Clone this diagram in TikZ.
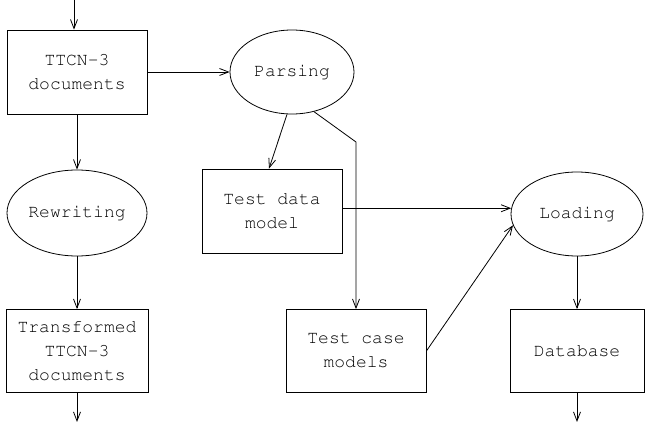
\documentclass[tikz,border=0pt]{standalone}
\usepackage[T1]{fontenc}
\usepackage{courier}
\usepackage{tikz}
\usetikzlibrary{arrows.meta, shapes.geometric}
\tikzset{
  databox/.style={draw, line width=0.8pt, rectangle, minimum width=140pt, minimum height=84pt, align=center, inner sep=0pt},
  procnode/.style={draw, line width=0.8pt, ellipse, inner sep=0pt, align=center},
  flow/.style={line width=0.8pt, -{Straight Barb[length=9pt,width=7pt]}}
}
\newcommand{\flowfont}{\ttfamily\fontsize{18}{24}\selectfont}

\begin{document}
\begin{tikzpicture}[x=1pt, y=-1pt, font=\flowfont]
        \useasboundingbox (0,0) rectangle (645,422);

        % Data (boxes)
        \node[databox] (doc) at (77,72) {TTCN-3\\documents};
        \node[databox] (tdm) at (272,211) {Test data\\model};
        \node[databox, minimum width=142pt, minimum height=83pt] (trans) at (77,351) {Transformed\\TTCN-3\\documents};
        \node[databox, minimum height=83pt] (tcm) at (356,351) {Test case\\models};
        \node[databox, minimum width=134pt, minimum height=83pt] (db) at (577,351) {Database};

        % Processes (ellipses)
        \node[procnode, minimum width=124pt, minimum height=84pt] (parse) at (292,72) {Parsing};
        \node[procnode, minimum width=140pt, minimum height=86pt] (rew) at (77,213) {Rewriting};
        \node[procnode, minimum width=132pt, minimum height=84pt] (load) at (577,214) {Loading};

        % Free ends
        \coordinate (in) at (74,0);
        \coordinate (out1) at (77,422);
        \coordinate (out2) at (577,422);
        \coordinate (bend) at (356,142);

        % Flows
        \draw[flow] (in) -- (in |- doc.north);
        \draw[flow] (doc.east) -- (parse.west);
        \draw[flow] (doc.south) -- (rew.north);
        \draw[flow] (rew.south) -- (trans.north);
        \draw[flow] (trans.south) -- (out1);
        \draw[flow] ([xshift=-5pt]parse.south) -- ([xshift=-3pt]tdm.north);
        \draw[flow] (parse.299) -- (bend) -- (tcm.north);
        \draw[flow] (tdm.east |- load.175) -- (load.175);
        \draw[flow] (tcm.east) -- (load.190);
        \draw[flow] (load.south) -- (db.north);
        \draw[flow] (db.south) -- (out2);
\end{tikzpicture}
\end{document}
